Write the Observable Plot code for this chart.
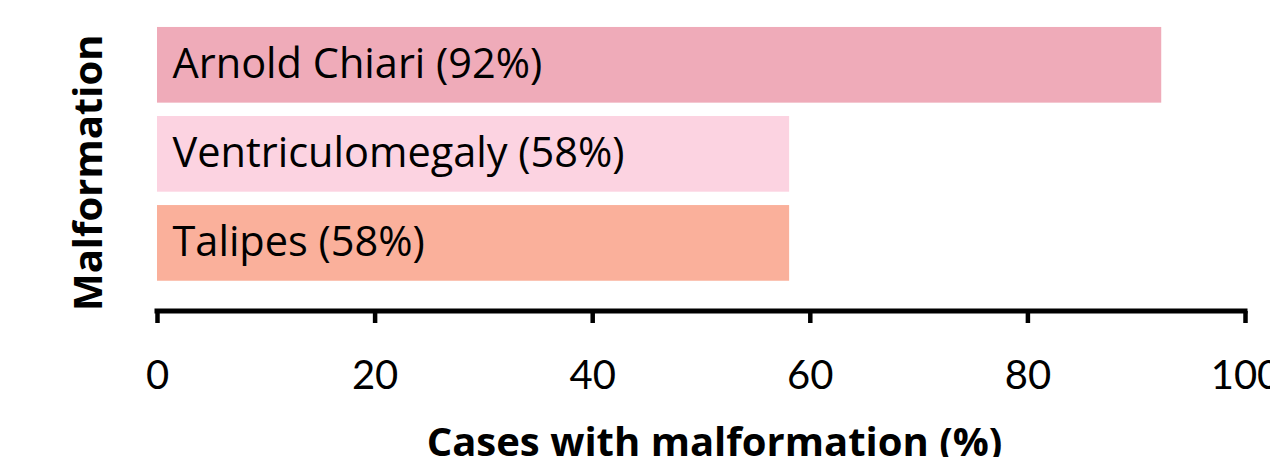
<!DOCTYPE html>
<html>
<head>
<meta charset="utf-8">
<script src="https://cdn.jsdelivr.net/npm/d3@7"></script>
<script src="https://cdn.jsdelivr.net/npm/@observablehq/plot@0.6"></script>
<style>
  html, body { margin: 0; padding: 0; background: #fff; }
</style>
</head>
<body>
<div id="chart"></div>
<script>
const categories = ["Arnold Chiari", "Ventriculomegaly", "Talipes"];
const values = [92.3, 58.1, 58.1];
const labels = ["Arnold Chiari (92%)", "Ventriculomegaly (58%)", "Talipes (58%)"];
const colors = ["#efabb9", "#fcd3e1", "#fab09b"];
const xTicks = [0, 20, 40, 60, 80, 100];
const xLabel = "Cases with malformation (%)";
const yLabel = "Malformation";

const data = categories.map((c, i) => ({category: c, value: values[i], label: labels[i]}));

const W = 1270, H = 457;
const mL = 157, mR = 25, mT = 13.6, mB = 146;

const axisLine = (index, scales, values, dims) => {
  const y = dims.height - dims.marginBottom;
  return d3.create("svg:line")
    .attr("x1", scales.x(0)).attr("x2", scales.x(100))
    .attr("y1", y).attr("y2", y)
    .attr("stroke", "#000").attr("stroke-width", 5)
    .attr("stroke-linecap", "square")
    .node();
};

const chart = Plot.plot({
  width: W,
  height: H,
  marginLeft: mL,
  marginRight: mR,
  marginTop: mT,
  marginBottom: mB,
  style: {fontFamily: "Lato", background: "#fff", color: "#000"},
  x: {domain: [0, 100], axis: null},
  y: {domain: categories, range: [13.6, 294.1], padding: 0.15, round: false, axis: null},
  color: {domain: categories, range: colors},
  marks: [
    Plot.barX(data, {y: "category", x: "value", fill: "category"}),
    Plot.text(data, {y: "category", x: 0, text: "label", textAnchor: "start", lineAnchor: "middle", dx: 15, dy: -1, fontSize: 41.5, fontFamily: "Open Sans", fill: "#000"}),
    Plot.axisX({ticks: xTicks, tickSize: 12, tickPadding: 37, strokeWidth: 4.5, fontSize: 40, label: null, tickFormat: d => String(d)}),
    axisLine,
    Plot.text([xLabel], {frameAnchor: "bottom", textAnchor: "middle", lineAnchor: "middle", dx: 13, dy: 131.2, fontSize: 40, fontFamily: "Open Sans", fontWeight: "bold", fill: "#000"}),
    Plot.text([yLabel], {frameAnchor: "left", textAnchor: "middle", lineAnchor: "middle", rotate: -90, dx: -68.8, dy: 10, fontSize: 40, fontFamily: "Open Sans", fontWeight: "bold", fill: "#000"})
  ]
});

document.getElementById("chart").appendChild(chart);
</script>
</body>
</html>
